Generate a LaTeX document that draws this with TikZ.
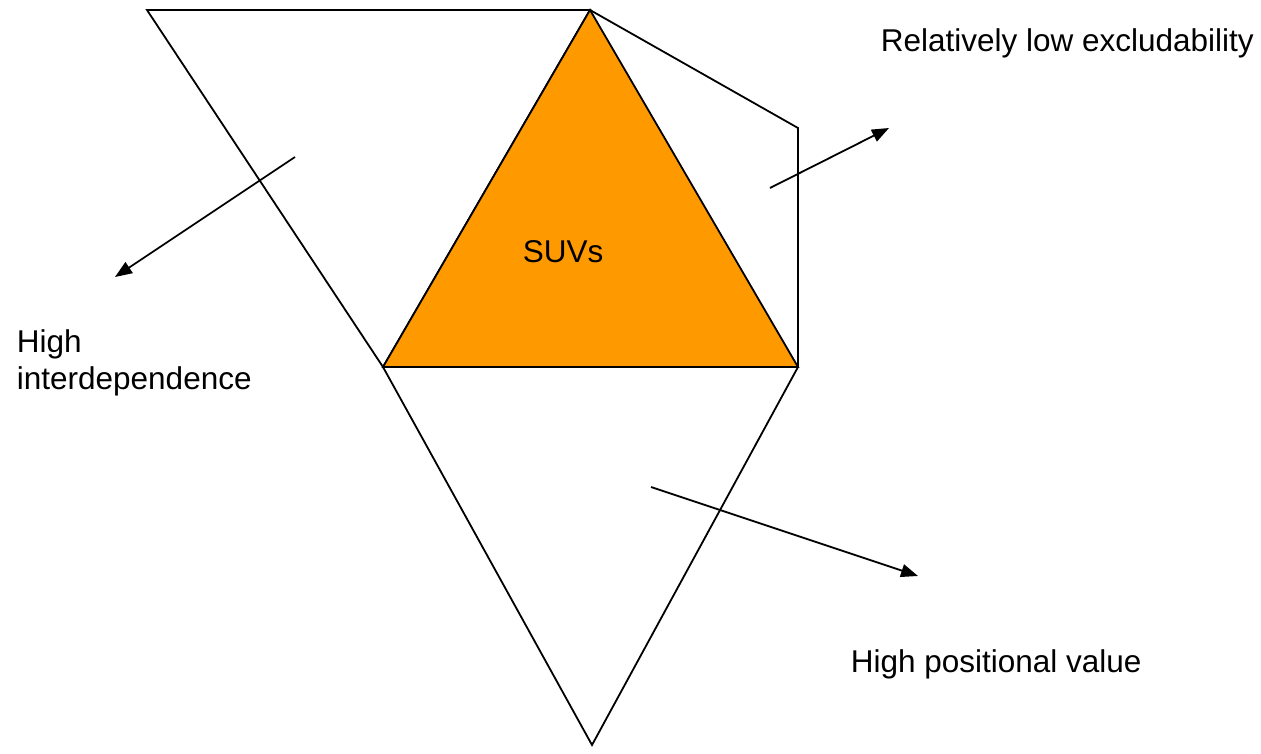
\documentclass[tikz,border=0pt]{standalone}
\usepackage{fontspec}
\setmainfont{Liberation Sans}
\usetikzlibrary{arrows.meta}
\definecolor{suvorange}{HTML}{FF9900}
\begin{document}
\begin{tikzpicture}[x=1pt, y=-1pt, line width=1.8pt, line join=miter,
    every node/.style={font=\fontsize{31.5}{37}\selectfont, inner sep=0pt, anchor=base west},
    pointer/.style={-{Triangle[length=17pt,width=13pt]}}]
    \useasboundingbox (0,0) rectangle (1261,754);
    % vertices
    \coordinate (tl) at (147,10); \coordinate (top) at (590,10); \coordinate (rt) at (798,128);
    \coordinate (bl) at (383,367); \coordinate (br) at (798,367); \coordinate (bot) at (592,745);
    % outer shapes
    \draw (tl) -- (top) -- (bl) -- cycle;
    \draw (top) -- (rt) -- (br);
    \draw (bl) -- (bot) -- (br);
    \draw[fill=suvorange] (top) -- (bl) -- (br) -- cycle;
    \node (suv) at (522,262) {SUVs};
    % arrows
    \coordinate (a1) at (295,157); \coordinate (a1e) at (115,277);
    \coordinate (a2) at (770,188); \coordinate (a2e) at (889,128);
    \coordinate (a3) at (651,487); \coordinate (a3e) at (918,576);
    \draw[pointer] (a1) -- (a1e); \draw[pointer] (a2) -- (a2e); \draw[pointer] (a3) -- (a3e);
    % labels
    \node[align=left] (inter) at (16,389) {High\\interdependence};
    \node (excl) at (880,52) {Relatively low excludability};
    \node (posi) at (850,672) {High positional value};
\end{tikzpicture}
\end{document}
